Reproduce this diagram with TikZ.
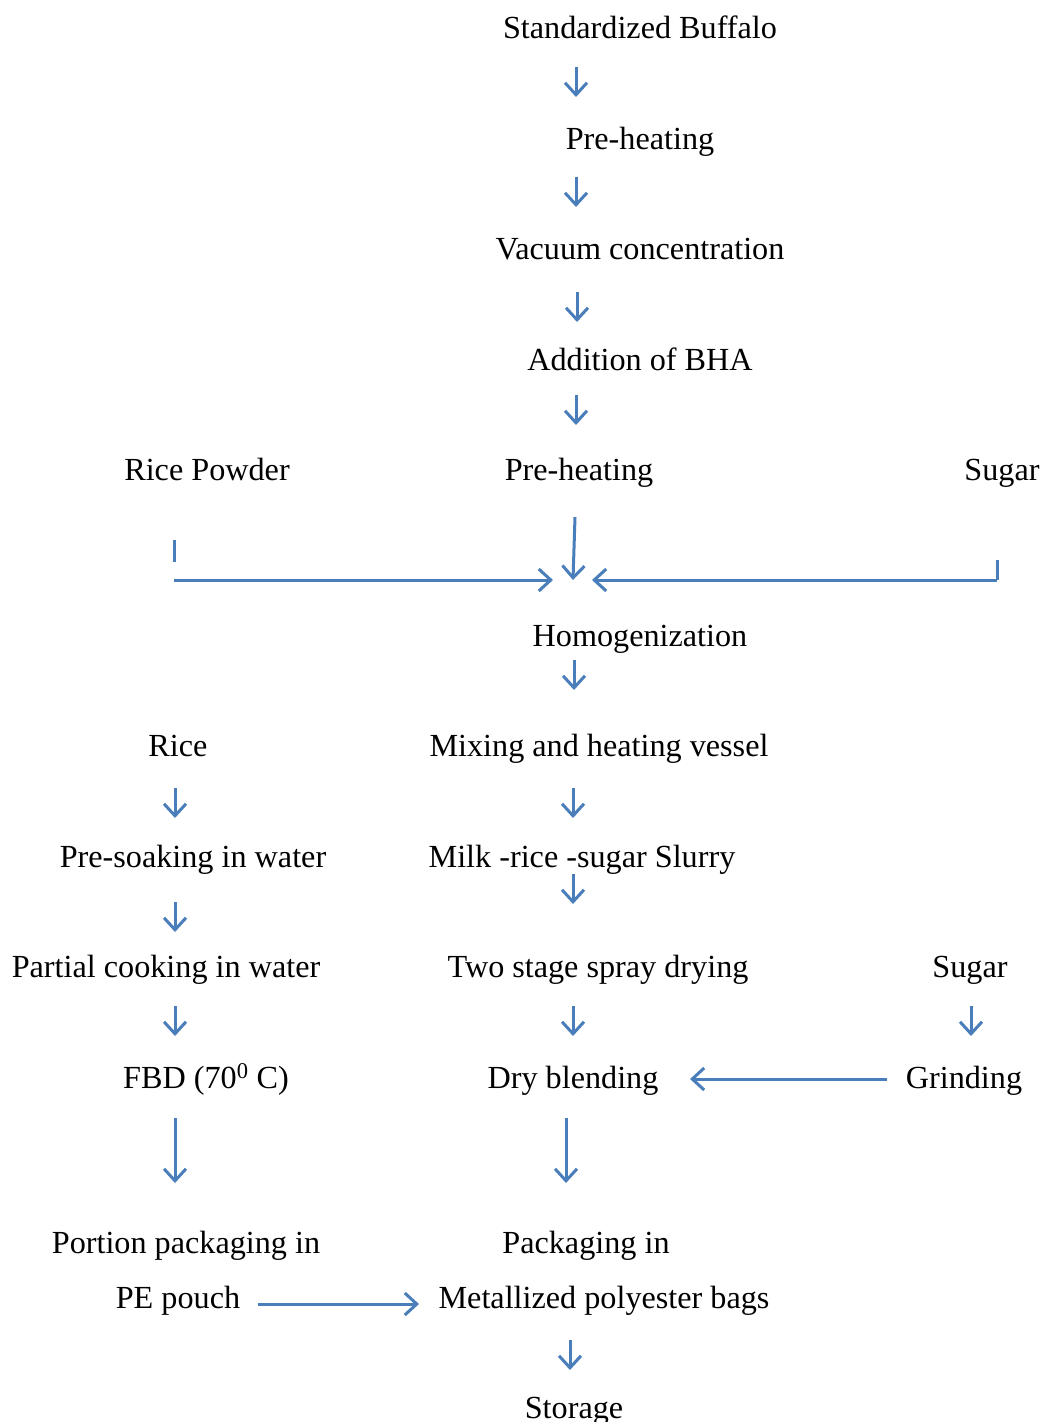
\documentclass[tikz,border=0pt]{standalone}
\usepackage{fontspec}
\setmainfont{Liberation Serif}
\usepackage{tikz}
\usetikzlibrary{arrows.meta}
\definecolor{flowblue}{RGB}{74,126,187}

\begin{document}
\begin{tikzpicture}[
  x=1pt, y=-1pt,
  every node/.style={font=\fontsize{32.2}{38}\selectfont, inner sep=0pt, anchor=base},
  arr/.style={-{Straight Barb[length=12pt,width=22pt,line width=3pt]}, line width=3pt, draw=flowblue},
  plain/.style={line width=3pt, draw=flowblue},
]
\useasboundingbox (0,0) rectangle (1043,1422);

% Milk line
\node (buffalo) at (640,38.5) {Standardized Buffalo};
\node (preheat1) at (640,149) {Pre-heating};
\node (vacuum) at (640,259) {Vacuum concentration};
\node (bha) at (640,370) {Addition of BHA};

% Mixing row
\node (ricepowder) at (207,480) {Rice Powder};
\node (preheat2) at (579,480) {Pre-heating};
\node (sugar1) at (1002,480) {Sugar};
\node (homog) at (640,646) {Homogenization};

% Rice line
\node (rice) at (178,756) {Rice};
\node (presoak) at (193,867) {Pre-soaking in water};
\node (partial) at (166,977) {Partial cooking in water};
\node (fbd) at (206,1088) {FBD (70\textsuperscript{0} C)};
\node (portion) at (186,1253) {Portion packaging in};
\node (pepouch) at (178,1308) {PE pouch};

% Main line
\node (mixing) at (599,756) {Mixing and heating vessel};
\node (slurry) at (582,867) {Milk -rice -sugar Slurry};
\node (spray) at (598,977) {Two stage spray drying};
\node (dryblend) at (573,1088) {Dry blending};
\node (packaging) at (586,1253) {Packaging in};
\node (metallized) at (604,1308) {Metallized polyester bags};
\node (storage) at (574,1418) {Storage};

% Sugar line
\node (sugar2) at (970,977) {Sugar};
\node (grinding) at (964,1088) {Grinding};

% Arrow ends
\coordinate (a1s) at (576,67);   \coordinate (a1e) at (576,97);
\coordinate (a2s) at (576,177);  \coordinate (a2e) at (576,207);
\coordinate (a3s) at (577,292);  \coordinate (a3e) at (577,322);
\coordinate (a4s) at (576,395);  \coordinate (a4e) at (576,425);
\coordinate (j0) at (575,517);   \coordinate (j1) at (573,580);
\coordinate (lt) at (174,540);   \coordinate (lb) at (174,562);
\coordinate (ls) at (174,580);   \coordinate (le) at (553,580);
\coordinate (rt) at (997,560);
\coordinate (rs) at (997,580);   \coordinate (re) at (592,580);
\coordinate (a5s) at (574,660);  \coordinate (a5e) at (574,690);
\coordinate (b1s) at (175,788);  \coordinate (b1e) at (175,818);
\coordinate (b2s) at (175,902);  \coordinate (b2e) at (175,932);
\coordinate (b3s) at (175,1006); \coordinate (b3e) at (175,1036);
\coordinate (b4s) at (175,1118); \coordinate (b4e) at (175,1183);
\coordinate (c1s) at (573,788);  \coordinate (c1e) at (573,818);
\coordinate (c2s) at (573,874);  \coordinate (c2e) at (573,904);
\coordinate (c3s) at (573,1006); \coordinate (c3e) at (573,1036);
\coordinate (c4s) at (566,1118); \coordinate (c4e) at (566,1183);
\coordinate (c5s) at (570,1340); \coordinate (c5e) at (570,1370);
\coordinate (d1s) at (971,1006); \coordinate (d1e) at (971,1036);
\coordinate (gs) at (887,1079);  \coordinate (ge) at (690,1079);
\coordinate (ps) at (258,1304);  \coordinate (pe) at (419,1304);

% Arrows
\draw[arr] (a1s) -- (a1e);
\draw[arr] (a2s) -- (a2e);
\draw[arr] (a3s) -- (a3e);
\draw[arr] (a4s) -- (a4e);
\draw[arr] (j0) -- (j1);
\draw[plain] (lt) -- (lb);
\draw[arr] (ls) -- (le);
\draw[plain] (rt) -- (rs);
\draw[arr] (rs) -- (re);
\draw[arr] (a5s) -- (a5e);
\draw[arr] (b1s) -- (b1e);
\draw[arr] (b2s) -- (b2e);
\draw[arr] (b3s) -- (b3e);
\draw[arr] (b4s) -- (b4e);
\draw[arr] (c1s) -- (c1e);
\draw[arr] (c2s) -- (c2e);
\draw[arr] (c3s) -- (c3e);
\draw[arr] (c4s) -- (c4e);
\draw[arr] (c5s) -- (c5e);
\draw[arr] (d1s) -- (d1e);
\draw[arr] (gs) -- (ge);
\draw[arr] (ps) -- (pe);
\end{tikzpicture}
\end{document}
